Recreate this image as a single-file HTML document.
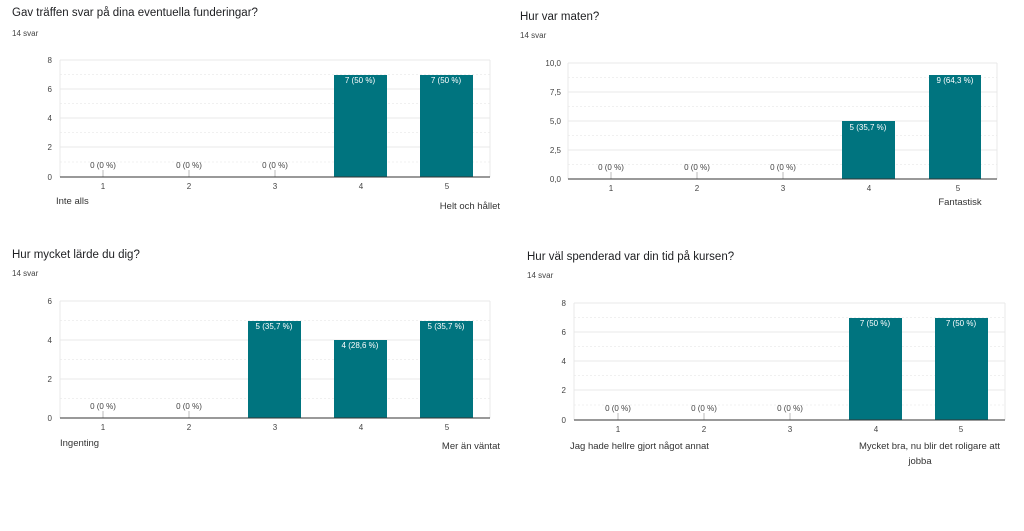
<!DOCTYPE html>
<html><head><meta charset="utf-8"><style>
body{margin:0;background:#fff;width:1024px;height:526px;overflow:hidden}
svg{font-family:"Liberation Sans",Arial,sans-serif}
.t{font-size:11.5px;fill:#202124}
.s{font-size:8px;fill:#444}
.ax{font-size:8px;fill:#444}
.g{stroke:#e8e8e8;stroke-width:1}
.gd{stroke:#f0f0f0;stroke-width:1;stroke-dasharray:2,2}
.b{fill:#00747f}
.bl{font-size:8px;fill:#fff;text-anchor:middle}
.zl{font-size:8px;fill:#444;text-anchor:middle}
.cl{font-size:8px;fill:#444;text-anchor:middle}
.lab{font-size:9.5px;fill:#333}
.base{stroke:#333;stroke-width:1}
.tk{stroke:#bbb;stroke-width:1}
</style></head><body>
<svg width="1024" height="526" viewBox="0 0 1024 526">
<!-- Chart 1 -->
<text class="t" x="12" y="16">Gav träffen svar på dina eventuella funderingar?</text>
<text class="s" x="12" y="36">14 svar</text>
<g>
<line class="g" x1="60" x2="490" y1="60" y2="60"/><line class="gd" x1="60" x2="490" y1="74.5" y2="74.5"/>
<line class="g" x1="60" x2="490" y1="89" y2="89"/><line class="gd" x1="60" x2="490" y1="103.5" y2="103.5"/>
<line class="g" x1="60" x2="490" y1="118" y2="118"/><line class="gd" x1="60" x2="490" y1="132.5" y2="132.5"/>
<line class="g" x1="60" x2="490" y1="147" y2="147"/><line class="gd" x1="60" x2="490" y1="162" y2="162"/>
<line class="g" x1="60" x2="60" y1="60" y2="177"/><line class="g" x1="490" x2="490" y1="60" y2="177"/>
<text class="ax" x="52" y="63" text-anchor="end">8</text><text class="ax" x="52" y="92" text-anchor="end">6</text>
<text class="ax" x="52" y="121" text-anchor="end">4</text><text class="ax" x="52" y="150" text-anchor="end">2</text>
<text class="ax" x="52" y="180" text-anchor="end">0</text>
<rect class="b" x="334" y="75" width="53" height="102"/><rect class="b" x="420" y="75" width="53" height="102"/>
<text class="bl" x="360" y="83">7 (50 %)</text><text class="bl" x="446" y="83">7 (50 %)</text>
<line class="tk" x1="103" x2="103" y1="170" y2="177"/><line class="tk" x1="189" x2="189" y1="170" y2="177"/><line class="tk" x1="275" x2="275" y1="170" y2="177"/>
<text class="zl" x="103" y="168">0 (0 %)</text><text class="zl" x="189" y="168">0 (0 %)</text><text class="zl" x="275" y="168">0 (0 %)</text>
<line class="base" x1="60" x2="490" y1="177" y2="177"/>
<text class="cl" x="103" y="189">1</text><text class="cl" x="189" y="189">2</text><text class="cl" x="275" y="189">3</text><text class="cl" x="361" y="189">4</text><text class="cl" x="447" y="189">5</text>
<text class="lab" x="56" y="204">Inte alls</text><text class="lab" x="500" y="209" text-anchor="end">Helt och hållet</text>
</g>
<!-- Chart 2 -->
<text class="t" x="520" y="20">Hur var maten?</text>
<text class="s" x="520" y="38">14 svar</text>
<g>
<line class="g" x1="568" x2="997" y1="63" y2="63"/><line class="gd" x1="568" x2="997" y1="77.5" y2="77.5"/>
<line class="g" x1="568" x2="997" y1="92" y2="92"/><line class="gd" x1="568" x2="997" y1="106.5" y2="106.5"/>
<line class="g" x1="568" x2="997" y1="121" y2="121"/><line class="gd" x1="568" x2="997" y1="135.5" y2="135.5"/>
<line class="g" x1="568" x2="997" y1="150" y2="150"/><line class="gd" x1="568" x2="997" y1="164.5" y2="164.5"/>
<line class="g" x1="568" x2="568" y1="63" y2="179"/><line class="g" x1="997" x2="997" y1="63" y2="179"/>
<text class="ax" x="561" y="66" text-anchor="end">10,0</text><text class="ax" x="561" y="95" text-anchor="end">7,5</text>
<text class="ax" x="561" y="124" text-anchor="end">5,0</text><text class="ax" x="561" y="153" text-anchor="end">2,5</text>
<text class="ax" x="561" y="182" text-anchor="end">0,0</text>
<rect class="b" x="842" y="121" width="53" height="58"/><rect class="b" x="929" y="75" width="52" height="104"/>
<text class="bl" x="868" y="130">5 (35,7 %)</text><text class="bl" x="955" y="83">9 (64,3 %)</text>
<line class="tk" x1="611" x2="611" y1="172" y2="179"/><line class="tk" x1="697" x2="697" y1="172" y2="179"/><line class="tk" x1="783" x2="783" y1="172" y2="179"/>
<text class="zl" x="611" y="170">0 (0 %)</text><text class="zl" x="697" y="170">0 (0 %)</text><text class="zl" x="783" y="170">0 (0 %)</text>
<line class="base" x1="568" x2="997" y1="179" y2="179"/>
<text class="cl" x="611" y="191">1</text><text class="cl" x="697" y="191">2</text><text class="cl" x="783" y="191">3</text><text class="cl" x="869" y="191">4</text><text class="cl" x="958" y="191">5</text>
<text class="lab" x="960" y="205" text-anchor="middle">Fantastisk</text>
</g>
<!-- Chart 3 -->
<text class="t" x="12" y="258">Hur mycket lärde du dig?</text>
<text class="s" x="12" y="276">14 svar</text>
<g>
<line class="g" x1="60" x2="490" y1="301" y2="301"/><line class="gd" x1="60" x2="490" y1="320.5" y2="320.5"/>
<line class="g" x1="60" x2="490" y1="340" y2="340"/><line class="gd" x1="60" x2="490" y1="359.5" y2="359.5"/>
<line class="g" x1="60" x2="490" y1="379" y2="379"/><line class="gd" x1="60" x2="490" y1="398.5" y2="398.5"/>
<line class="g" x1="60" x2="60" y1="301" y2="418"/><line class="g" x1="490" x2="490" y1="301" y2="418"/>
<text class="ax" x="52" y="304" text-anchor="end">6</text><text class="ax" x="52" y="343" text-anchor="end">4</text>
<text class="ax" x="52" y="382" text-anchor="end">2</text><text class="ax" x="52" y="421" text-anchor="end">0</text>
<rect class="b" x="248" y="321" width="53" height="97"/><rect class="b" x="334" y="340" width="53" height="78"/><rect class="b" x="420" y="321" width="53" height="97"/>
<text class="bl" x="274" y="329">5 (35,7 %)</text><text class="bl" x="360" y="348">4 (28,6 %)</text><text class="bl" x="446" y="329">5 (35,7 %)</text>
<line class="tk" x1="103" x2="103" y1="411" y2="418"/><line class="tk" x1="189" x2="189" y1="411" y2="418"/>
<text class="zl" x="103" y="409">0 (0 %)</text><text class="zl" x="189" y="409">0 (0 %)</text>
<line class="base" x1="60" x2="490" y1="418" y2="418"/>
<text class="cl" x="103" y="430">1</text><text class="cl" x="189" y="430">2</text><text class="cl" x="275" y="430">3</text><text class="cl" x="361" y="430">4</text><text class="cl" x="447" y="430">5</text>
<text class="lab" x="60" y="446">Ingenting</text><text class="lab" x="500" y="449" text-anchor="end">Mer än väntat</text>
</g>
<!-- Chart 4 -->
<text class="t" x="527" y="260">Hur väl spenderad var din tid på kursen?</text>
<text class="s" x="527" y="278">14 svar</text>
<g>
<line class="g" x1="574" x2="1005" y1="303" y2="303"/><line class="gd" x1="574" x2="1005" y1="317.5" y2="317.5"/>
<line class="g" x1="574" x2="1005" y1="332" y2="332"/><line class="gd" x1="574" x2="1005" y1="346.5" y2="346.5"/>
<line class="g" x1="574" x2="1005" y1="361" y2="361"/><line class="gd" x1="574" x2="1005" y1="375.5" y2="375.5"/>
<line class="g" x1="574" x2="1005" y1="390" y2="390"/><line class="gd" x1="574" x2="1005" y1="405" y2="405"/>
<line class="g" x1="574" x2="574" y1="303" y2="420"/><line class="g" x1="1005" x2="1005" y1="303" y2="420"/>
<text class="ax" x="566" y="306" text-anchor="end">8</text><text class="ax" x="566" y="335" text-anchor="end">6</text>
<text class="ax" x="566" y="364" text-anchor="end">4</text><text class="ax" x="566" y="393" text-anchor="end">2</text>
<text class="ax" x="566" y="423" text-anchor="end">0</text>
<rect class="b" x="849" y="318" width="53" height="102"/><rect class="b" x="935" y="318" width="53" height="102"/>
<text class="bl" x="875" y="326">7 (50 %)</text><text class="bl" x="961" y="326">7 (50 %)</text>
<line class="tk" x1="618" x2="618" y1="413" y2="420"/><line class="tk" x1="704" x2="704" y1="413" y2="420"/><line class="tk" x1="790" x2="790" y1="413" y2="420"/>
<text class="zl" x="618" y="411">0 (0 %)</text><text class="zl" x="704" y="411">0 (0 %)</text><text class="zl" x="790" y="411">0 (0 %)</text>
<line class="base" x1="574" x2="1005" y1="420" y2="420"/>
<text class="cl" x="618" y="432">1</text><text class="cl" x="704" y="432">2</text><text class="cl" x="790" y="432">3</text><text class="cl" x="876" y="432">4</text><text class="cl" x="961" y="432">5</text>
<text class="lab" x="570" y="449">Jag hade hellre gjort något annat</text>
<text class="lab" x="1000" y="449" text-anchor="end">Mycket bra, nu blir det roligare att</text>
<text class="lab" x="920" y="464" text-anchor="middle">jobba</text>
</g>
</svg>
</body></html>
